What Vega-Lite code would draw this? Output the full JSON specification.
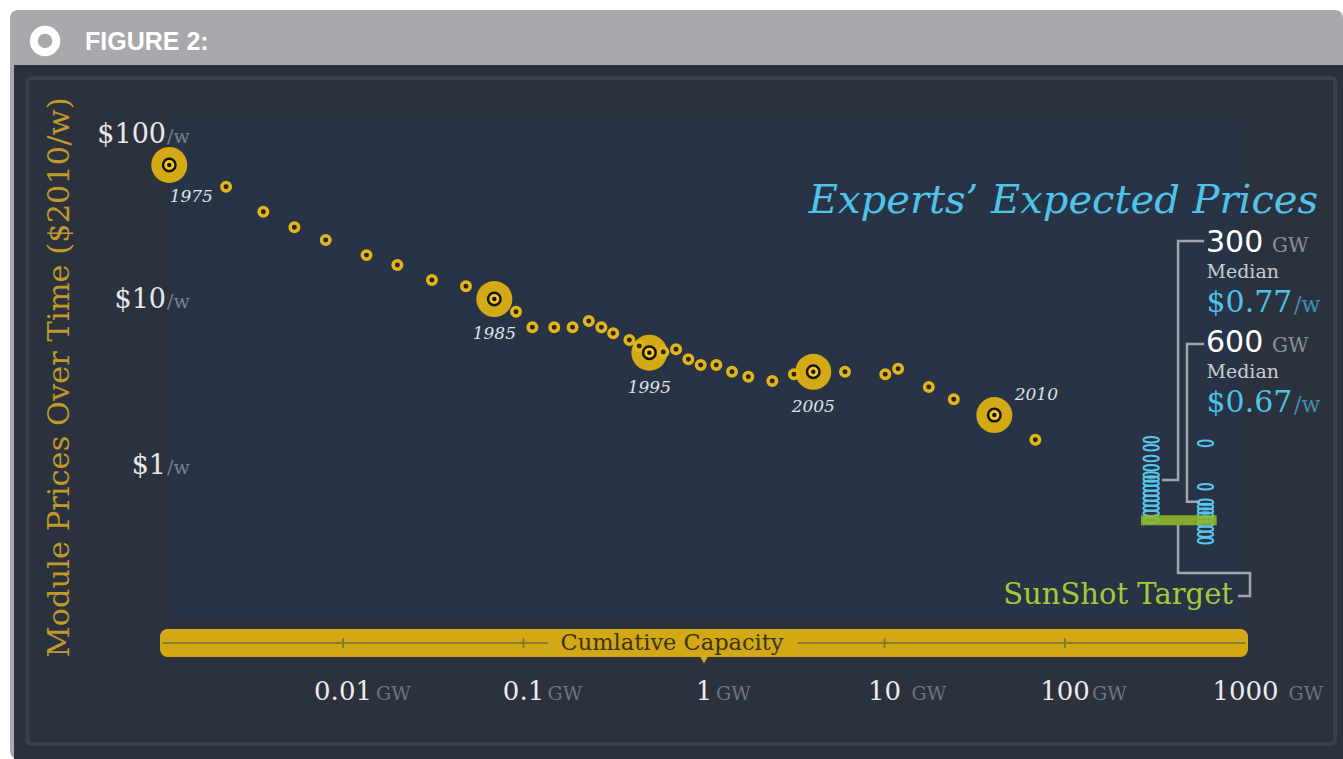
{
"$schema": "https://vega.github.io/schema/vega-lite/v6.json",
"width": 1343,
"height": 759,
"autosize": {"type": "fit", "contains": "padding"},
"padding": {"left": 10, "top": 10, "right": 0, "bottom": 0},
"background": "#ffffff",
"view": {"fill": "#a7a9ac", "stroke": null, "cornerRadius": 8},
"config": {"view": {"stroke": null}},
"datasets": {
"dots": [
{"capacity": 0.00109, "price": 65.9, "year": 1975},
{"capacity": 0.00225, "price": 48.7},
{"capacity": 0.00362, "price": 34.4},
{"capacity": 0.00538, "price": 27.7},
{"capacity": 0.00802, "price": 23.2},
{"capacity": 0.0135, "price": 18.8},
{"capacity": 0.02, "price": 16.4},
{"capacity": 0.0311, "price": 13.3},
{"capacity": 0.048, "price": 12.2},
{"capacity": 0.0689, "price": 10.2, "year": 1985},
{"capacity": 0.0909, "price": 8.56},
{"capacity": 0.112, "price": 6.89},
{"capacity": 0.148, "price": 6.89},
{"capacity": 0.187, "price": 6.89},
{"capacity": 0.23, "price": 7.52},
{"capacity": 0.27, "price": 6.89},
{"capacity": 0.314, "price": 6.34},
{"capacity": 0.386, "price": 5.77},
{"capacity": 0.438, "price": 5.31},
{"capacity": 0.498, "price": 4.84, "year": 1995},
{"capacity": 0.595, "price": 4.89},
{"capacity": 0.7, "price": 5.07},
{"capacity": 0.819, "price": 4.41},
{"capacity": 0.959, "price": 4.08},
{"capacity": 1.17, "price": 4.08},
{"capacity": 1.43, "price": 3.71},
{"capacity": 1.76, "price": 3.46},
{"capacity": 2.39, "price": 3.26},
{"capacity": 3.15, "price": 3.58},
{"capacity": 4.03, "price": 3.71, "year": 2005},
{"capacity": 6.04, "price": 3.71},
{"capacity": 10.1, "price": 3.58},
{"capacity": 11.9, "price": 3.87},
{"capacity": 17.6, "price": 3.0},
{"capacity": 24.2, "price": 2.53},
{"capacity": 40.6, "price": 2.03, "year": 2010},
{"capacity": 68.5, "price": 1.44}
],
"experts": [
{"capacity": 300, "price": 1.44}, {"capacity": 300, "price": 1.29}, {"capacity": 300, "price": 1.11},
{"capacity": 300, "price": 0.977}, {"capacity": 300, "price": 0.882}, {"capacity": 300, "price": 0.835},
{"capacity": 300, "price": 0.786}, {"capacity": 300, "price": 0.733}, {"capacity": 300, "price": 0.684},
{"capacity": 300, "price": 0.638}, {"capacity": 300, "price": 0.595}, {"capacity": 300, "price": 0.555},
{"capacity": 300, "price": 0.518}, {"capacity": 300, "price": 0.472},
{"capacity": 600, "price": 1.37}, {"capacity": 600, "price": 0.75}, {"capacity": 600, "price": 0.604},
{"capacity": 600, "price": 0.568}, {"capacity": 600, "price": 0.535}, {"capacity": 600, "price": 0.506},
{"capacity": 600, "price": 0.476}, {"capacity": 600, "price": 0.446}, {"capacity": 600, "price": 0.416},
{"capacity": 600, "price": 0.387}, {"capacity": 600, "price": 0.354}
],
"summary": [
{"capacity": 300, "median": 0.77},
{"capacity": 600, "median": 0.67}
],
"ylabels": [{"price": 100}, {"price": 10}, {"price": 1}],
"xlabels": [{"capacity": 0.01}, {"capacity": 0.1}, {"capacity": 1}, {"capacity": 10}, {"capacity": 100}, {"capacity": 1000}],
"connectors": [
{"path": "A", "step": 1, "capacity": 590, "price": 22.9},
{"path": "A", "step": 2, "capacity": 423, "price": 22.9},
{"path": "A", "step": 3, "capacity": 423, "price": 0.823},
{"path": "A", "step": 4, "capacity": 345, "price": 0.823},
{"path": "B", "step": 1, "capacity": 590, "price": 5.46},
{"path": "B", "step": 2, "capacity": 474, "price": 5.46},
{"path": "B", "step": 3, "capacity": 474, "price": 0.608},
{"path": "B", "step": 4, "capacity": 560, "price": 0.608},
{"path": "C", "step": 1, "capacity": 423, "price": 0.44},
{"path": "C", "step": 2, "capacity": 423, "price": 0.226},
{"path": "C", "step": 3, "capacity": 1059, "price": 0.226},
{"path": "C", "step": 4, "capacity": 1059, "price": 0.164},
{"path": "C", "step": 5, "capacity": 909, "price": 0.164}
]
},
"layer": [
{"data": {"values": [{}]}, "mark": {"type": "rect", "fill": "#2c323d"},
 "encoding": {"x": {"datum": 0.0001504, "type": "quantitative", "scale": {"type": "log", "domain": [0.0001429, 3468.7], "nice": false}, "axis": null}, "x2": {"datum": 3468.7},
  "y": {"datum": 264.9, "type": "quantitative", "scale": {"type": "log", "domain": [0.016967, 569.2], "nice": false}, "axis": null}, "y2": {"datum": 0.016967}}},
{"data": {"values": [{}]}, "mark": {"type": "rect", "fill": "#283446"},
 "encoding": {"x": {"datum": 0.0011, "type": "quantitative", "scale": {"type": "log", "domain": [0.0001429, 3468.7], "nice": false}, "axis": null}, "x2": {"datum": 968.6},
  "y": {"datum": 119.8, "type": "quantitative", "scale": {"type": "log", "domain": [0.016967, 569.2], "nice": false}, "axis": null}, "y2": {"datum": 0.1173}}},
{"data": {"values": [{}]}, "mark": {"type": "rect", "filled": false, "stroke": "#3b414c", "strokeWidth": 4, "cornerRadius": 4},
 "encoding": {"x": {"datum": 0.0001787, "type": "quantitative", "scale": {"type": "log", "domain": [0.0001429, 3468.7], "nice": false}, "axis": null}, "x2": {"datum": 3132},
  "y": {"datum": 221.0, "type": "quantitative", "scale": {"type": "log", "domain": [0.016967, 569.2], "nice": false}, "axis": null}, "y2": {"datum": 0.0209}}},
{"data": {"values": [{}]}, "mark": {"type": "point", "shape": "circle", "filled": false, "stroke": "#ffffff", "strokeWidth": 8, "size": 506, "opacity": 1},
 "encoding": {"x": {"datum": 0.0002234, "type": "quantitative", "scale": {"type": "log", "domain": [0.0001429, 3468.7], "nice": false}, "axis": null},
  "y": {"datum": 369.8, "type": "quantitative", "scale": {"type": "log", "domain": [0.016967, 569.2], "nice": false}, "axis": null}}},
{"data": {"values": [{}]}, "mark": {"type": "text", "text": "FIGURE 2:", "font": "Liberation Sans", "fontWeight": "bold", "fontSize": 25, "color": "#ffffff", "align": "left", "baseline": "alphabetic"},
 "encoding": {"x": {"datum": 0.0003721, "type": "quantitative", "scale": {"type": "log", "domain": [0.0001429, 3468.7], "nice": false}, "axis": null},
  "y": {"datum": 326.3, "type": "quantitative", "scale": {"type": "log", "domain": [0.016967, 569.2], "nice": false}, "axis": null}}},
{"data": {"values": [{}]}, "mark": {"type": "text", "text": "Module Prices Over Time ($2010/w)", "angle": 270, "font": "DejaVu Serif", "fontSize": 30.5, "color": "#bf9a2b", "align": "center", "baseline": "middle"},
 "encoding": {"x": {"datum": 0.0002705, "type": "quantitative", "scale": {"type": "log", "domain": [0.0001429, 3468.7], "nice": false}, "axis": null},
  "y": {"datum": 3.4245, "type": "quantitative", "scale": {"type": "log", "domain": [0.016967, 569.2], "nice": false}, "axis": null}}},
{"data": {"name": "ylabels"}, "mark": {"type": "text", "font": "DejaVu Serif", "fontSize": 27, "color": "#e8e8ea", "align": "right", "baseline": "alphabetic", "dx": 1, "dy": 8},
 "encoding": {"x": {"datum": 0.0010324, "type": "quantitative", "scale": {"type": "log", "domain": [0.0001429, 3468.7], "nice": false}, "axis": null},
  "y": {"field": "price", "type": "quantitative", "scale": {"type": "log", "domain": [0.016967, 569.2], "nice": false}, "axis": null},
  "text": {"field": "price", "type": "quantitative", "format": "$d"}}},
{"data": {"name": "ylabels"}, "mark": {"type": "text", "text": "/w", "font": "DejaVu Serif", "fontSize": 19, "color": "#7a808a", "align": "left", "baseline": "alphabetic", "dx": 2, "dy": 8},
 "encoding": {"x": {"datum": 0.0010324, "type": "quantitative", "scale": {"type": "log", "domain": [0.0001429, 3468.7], "nice": false}, "axis": null},
  "y": {"field": "price", "type": "quantitative", "scale": {"type": "log", "domain": [0.016967, 569.2], "nice": false}, "axis": null}}},
{"data": {"values": [{}]}, "mark": {"type": "rect", "fill": "#d2a815", "stroke": "#d2a815", "strokeWidth": 5, "cornerRadius": 5},
 "encoding": {"x": {"datum": 0.001, "type": "quantitative", "scale": {"type": "log", "domain": [0.0001429, 3468.7], "nice": false}, "axis": null}, "x2": {"datum": 1000},
  "y": {"datum": 0.1, "type": "quantitative", "scale": {"type": "log", "domain": [0.016967, 569.2], "nice": false}, "axis": null}, "y2": {"datum": 0.07263}}},
{"data": {"values": [{}]}, "mark": {"type": "rule", "color": "#8d7a2d", "strokeWidth": 2},
 "encoding": {"x": {"datum": 0.001, "type": "quantitative", "scale": {"type": "log", "domain": [0.0001429, 3468.7], "nice": false}, "axis": null}, "x2": {"datum": 0.1367},
  "y": {"datum": 0.0852, "type": "quantitative", "scale": {"type": "log", "domain": [0.016967, 569.2], "nice": false}, "axis": null}}},
{"data": {"values": [{}]}, "mark": {"type": "rule", "color": "#8d7a2d", "strokeWidth": 2},
 "encoding": {"x": {"datum": 3.304, "type": "quantitative", "scale": {"type": "log", "domain": [0.0001429, 3468.7], "nice": false}, "axis": null}, "x2": {"datum": 1000},
  "y": {"datum": 0.0852, "type": "quantitative", "scale": {"type": "log", "domain": [0.016967, 569.2], "nice": false}, "axis": null}}},
{"data": {"name": "xlabels"}, "transform": [{"filter": {"field": "capacity", "oneOf": [0.01, 0.1, 10, 100]}}],
 "mark": {"type": "tick", "orient": "vertical", "size": 10, "thickness": 2, "color": "#8d7a2d", "opacity": 1},
 "encoding": {"x": {"field": "capacity", "type": "quantitative", "scale": {"type": "log", "domain": [0.0001429, 3468.7], "nice": false}, "axis": null},
  "y": {"datum": 0.0852, "type": "quantitative", "scale": {"type": "log", "domain": [0.016967, 569.2], "nice": false}, "axis": null}}},
{"data": {"values": [{}]}, "mark": {"type": "text", "text": "Cumlative Capacity", "font": "DejaVu Serif", "fontSize": 22.5, "color": "#3d3318", "align": "center", "baseline": "middle"},
 "encoding": {"x": {"datum": 0.665, "type": "quantitative", "scale": {"type": "log", "domain": [0.0001429, 3468.7], "nice": false}, "axis": null},
  "y": {"datum": 0.0852, "type": "quantitative", "scale": {"type": "log", "domain": [0.016967, 569.2], "nice": false}, "axis": null}}},
{"data": {"values": [{}]}, "mark": {"type": "point", "shape": "triangle-down", "filled": true, "color": "#d2a815", "size": 110, "opacity": 1},
 "encoding": {"x": {"datum": 1, "type": "quantitative", "scale": {"type": "log", "domain": [0.0001429, 3468.7], "nice": false}, "axis": null},
  "y": {"datum": 0.06823, "type": "quantitative", "scale": {"type": "log", "domain": [0.016967, 569.2], "nice": false}, "axis": null}}},
{"data": {"name": "xlabels"}, "mark": {"type": "text", "font": "DejaVu Serif", "fontSize": 26, "color": "#ececec", "align": "center", "baseline": "alphabetic"},
 "encoding": {"x": {"field": "capacity", "type": "quantitative", "scale": {"type": "log", "domain": [0.0001429, 3468.7], "nice": false}, "axis": null},
  "y": {"datum": 0.03855, "type": "quantitative", "scale": {"type": "log", "domain": [0.016967, 569.2], "nice": false}, "axis": null},
  "text": {"field": "capacity", "type": "quantitative", "format": "~g"}}},
{"data": {"name": "xlabels"}, "transform": [{"filter": {"field": "capacity", "oneOf": [0.01]}}],
 "mark": {"type": "text", "text": "GW", "font": "DejaVu Serif", "fontSize": 19, "color": "#6e747e", "align": "left", "baseline": "alphabetic", "dx": 33},
 "encoding": {"x": {"field": "capacity", "type": "quantitative", "scale": {"type": "log", "domain": [0.0001429, 3468.7], "nice": false}, "axis": null},
  "y": {"datum": 0.03855, "type": "quantitative", "scale": {"type": "log", "domain": [0.016967, 569.2], "nice": false}, "axis": null}}},
{"data": {"name": "xlabels"}, "transform": [{"filter": {"field": "capacity", "oneOf": [0.1]}}],
 "mark": {"type": "text", "text": "GW", "font": "DejaVu Serif", "fontSize": 19, "color": "#6e747e", "align": "left", "baseline": "alphabetic", "dx": 24},
 "encoding": {"x": {"field": "capacity", "type": "quantitative", "scale": {"type": "log", "domain": [0.0001429, 3468.7], "nice": false}, "axis": null},
  "y": {"datum": 0.03855, "type": "quantitative", "scale": {"type": "log", "domain": [0.016967, 569.2], "nice": false}, "axis": null}}},
{"data": {"name": "xlabels"}, "transform": [{"filter": {"field": "capacity", "oneOf": [1]}}],
 "mark": {"type": "text", "text": "GW", "font": "DejaVu Serif", "fontSize": 19, "color": "#6e747e", "align": "left", "baseline": "alphabetic", "dx": 12},
 "encoding": {"x": {"field": "capacity", "type": "quantitative", "scale": {"type": "log", "domain": [0.0001429, 3468.7], "nice": false}, "axis": null},
  "y": {"datum": 0.03855, "type": "quantitative", "scale": {"type": "log", "domain": [0.016967, 569.2], "nice": false}, "axis": null}}},
{"data": {"name": "xlabels"}, "transform": [{"filter": {"field": "capacity", "oneOf": [10, 100]}}],
 "mark": {"type": "text", "text": "GW", "font": "DejaVu Serif", "fontSize": 19, "color": "#6e747e", "align": "left", "baseline": "alphabetic", "dx": 27},
 "encoding": {"x": {"field": "capacity", "type": "quantitative", "scale": {"type": "log", "domain": [0.0001429, 3468.7], "nice": false}, "axis": null},
  "y": {"datum": 0.03855, "type": "quantitative", "scale": {"type": "log", "domain": [0.016967, 569.2], "nice": false}, "axis": null}}},
{"data": {"name": "xlabels"}, "transform": [{"filter": {"field": "capacity", "oneOf": [1000]}}],
 "mark": {"type": "text", "text": "GW", "font": "DejaVu Serif", "fontSize": 19, "color": "#6e747e", "align": "left", "baseline": "alphabetic", "dx": 43},
 "encoding": {"x": {"field": "capacity", "type": "quantitative", "scale": {"type": "log", "domain": [0.0001429, 3468.7], "nice": false}, "axis": null},
  "y": {"datum": 0.03855, "type": "quantitative", "scale": {"type": "log", "domain": [0.016967, 569.2], "nice": false}, "axis": null}}},
{"data": {"name": "connectors"}, "mark": {"type": "line", "color": "#a3a7ad", "strokeWidth": 2.5, "strokeJoin": "miter"},
 "encoding": {"x": {"field": "capacity", "type": "quantitative", "scale": {"type": "log", "domain": [0.0001429, 3468.7], "nice": false}, "axis": null},
  "y": {"field": "price", "type": "quantitative", "scale": {"type": "log", "domain": [0.016967, 569.2], "nice": false}, "axis": null},
  "detail": {"field": "path"}, "order": {"field": "step"}}},
{"data": {"name": "experts"}, "mark": {"type": "point", "shape": "M -1 0 A 1 0.36 0 1 1 1 0 A 1 0.36 0 1 1 -1 0 Z", "filled": false, "stroke": "#58c6ee", "strokeWidth": 2, "size": 240, "opacity": 1},
 "encoding": {"x": {"field": "capacity", "type": "quantitative", "scale": {"type": "log", "domain": [0.0001429, 3468.7], "nice": false}, "axis": null},
  "y": {"field": "price", "type": "quantitative", "scale": {"type": "log", "domain": [0.016967, 569.2], "nice": false}, "axis": null}}},
{"data": {"values": [{}]}, "mark": {"type": "rule", "color": "#8fba2c", "strokeWidth": 10, "opacity": 0.88},
 "encoding": {"x": {"datum": 263.7, "type": "quantitative", "scale": {"type": "log", "domain": [0.0001429, 3468.7], "nice": false}, "axis": null}, "x2": {"datum": 692.4},
  "y": {"datum": 0.47, "type": "quantitative", "scale": {"type": "log", "domain": [0.016967, 569.2], "nice": false}, "axis": null}}},
{"data": {"values": [{}]}, "mark": {"type": "text", "text": "SunShot Target", "font": "DejaVu Serif", "fontSize": 29, "color": "#a6c83a", "align": "right", "baseline": "middle"},
 "encoding": {"x": {"datum": 852.5, "type": "quantitative", "scale": {"type": "log", "domain": [0.0001429, 3468.7], "nice": false}, "axis": null},
  "y": {"datum": 0.16614, "type": "quantitative", "scale": {"type": "log", "domain": [0.016967, 569.2], "nice": false}, "axis": null}}},
{"data": {"values": [{}]}, "mark": {"type": "text", "text": "Experts’ Expected Prices", "font": "DejaVu Serif", "fontStyle": "italic", "fontSize": 40, "color": "#4fc3ea", "align": "right", "baseline": "middle"},
 "encoding": {"x": {"datum": 2521, "type": "quantitative", "scale": {"type": "log", "domain": [0.0001429, 3468.7], "nice": false}, "axis": null},
  "y": {"datum": 39.93, "type": "quantitative", "scale": {"type": "log", "domain": [0.016967, 569.2], "nice": false}, "axis": null}}},
{"data": {"name": "summary"}, "transform": [{"filter": {"field": "capacity", "equal": 300}}],
 "mark": {"type": "text", "font": "DejaVu Sans", "fontSize": 30, "color": "#ffffff", "align": "left", "baseline": "alphabetic"},
 "encoding": {"x": {"datum": 604, "type": "quantitative", "scale": {"type": "log", "domain": [0.0001429, 3468.7], "nice": false}, "axis": null},
  "y": {"datum": 19.64, "type": "quantitative", "scale": {"type": "log", "domain": [0.016967, 569.2], "nice": false}, "axis": null},
  "text": {"field": "capacity", "type": "nominal"}}},
{"data": {"name": "summary"}, "transform": [{"filter": {"field": "capacity", "equal": 300}}],
 "mark": {"type": "text", "text": "GW", "font": "DejaVu Serif", "fontSize": 20, "color": "#8c9096", "align": "left", "baseline": "alphabetic"},
 "encoding": {"x": {"datum": 1402, "type": "quantitative", "scale": {"type": "log", "domain": [0.0001429, 3468.7], "nice": false}, "axis": null},
  "y": {"datum": 19.64, "type": "quantitative", "scale": {"type": "log", "domain": [0.016967, 569.2], "nice": false}, "axis": null}}},
{"data": {"name": "summary"}, "transform": [{"filter": {"field": "capacity", "equal": 300}}],
 "mark": {"type": "text", "text": "Median", "font": "DejaVu Serif", "fontSize": 19, "color": "#c9cbcf", "align": "left", "baseline": "alphabetic"},
 "encoding": {"x": {"datum": 608, "type": "quantitative", "scale": {"type": "log", "domain": [0.0001429, 3468.7], "nice": false}, "axis": null},
  "y": {"datum": 13.68, "type": "quantitative", "scale": {"type": "log", "domain": [0.016967, 569.2], "nice": false}, "axis": null}}},
{"data": {"name": "summary"}, "transform": [{"filter": {"field": "capacity", "equal": 300}}],
 "mark": {"type": "text", "font": "DejaVu Serif", "fontSize": 30, "color": "#4ec3ea", "align": "left", "baseline": "alphabetic"},
 "encoding": {"x": {"datum": 608, "type": "quantitative", "scale": {"type": "log", "domain": [0.0001429, 3468.7], "nice": false}, "axis": null},
  "y": {"datum": 8.522, "type": "quantitative", "scale": {"type": "log", "domain": [0.016967, 569.2], "nice": false}, "axis": null},
  "text": {"field": "median", "type": "quantitative", "format": "$.2f"}}},
{"data": {"name": "summary"}, "transform": [{"filter": {"field": "capacity", "equal": 300}}],
 "mark": {"type": "text", "text": "/w", "font": "DejaVu Serif", "fontSize": 22, "color": "#3f8fae", "align": "left", "baseline": "alphabetic"},
 "encoding": {"x": {"datum": 1857, "type": "quantitative", "scale": {"type": "log", "domain": [0.0001429, 3468.7], "nice": false}, "axis": null},
  "y": {"datum": 8.522, "type": "quantitative", "scale": {"type": "log", "domain": [0.016967, 569.2], "nice": false}, "axis": null}}},
{"data": {"name": "summary"}, "transform": [{"filter": {"field": "capacity", "equal": 600}}],
 "mark": {"type": "text", "font": "DejaVu Sans", "fontSize": 30, "color": "#ffffff", "align": "left", "baseline": "alphabetic"},
 "encoding": {"x": {"datum": 604, "type": "quantitative", "scale": {"type": "log", "domain": [0.0001429, 3468.7], "nice": false}, "axis": null},
  "y": {"datum": 4.885, "type": "quantitative", "scale": {"type": "log", "domain": [0.016967, 569.2], "nice": false}, "axis": null},
  "text": {"field": "capacity", "type": "nominal"}}},
{"data": {"name": "summary"}, "transform": [{"filter": {"field": "capacity", "equal": 600}}],
 "mark": {"type": "text", "text": "GW", "font": "DejaVu Serif", "fontSize": 20, "color": "#8c9096", "align": "left", "baseline": "alphabetic"},
 "encoding": {"x": {"datum": 1402, "type": "quantitative", "scale": {"type": "log", "domain": [0.0001429, 3468.7], "nice": false}, "axis": null},
  "y": {"datum": 4.885, "type": "quantitative", "scale": {"type": "log", "domain": [0.016967, 569.2], "nice": false}, "axis": null}}},
{"data": {"name": "summary"}, "transform": [{"filter": {"field": "capacity", "equal": 600}}],
 "mark": {"type": "text", "text": "Median", "font": "DejaVu Serif", "fontSize": 19, "color": "#c9cbcf", "align": "left", "baseline": "alphabetic"},
 "encoding": {"x": {"datum": 608, "type": "quantitative", "scale": {"type": "log", "domain": [0.0001429, 3468.7], "nice": false}, "axis": null},
  "y": {"datum": 3.401, "type": "quantitative", "scale": {"type": "log", "domain": [0.016967, 569.2], "nice": false}, "axis": null}}},
{"data": {"name": "summary"}, "transform": [{"filter": {"field": "capacity", "equal": 600}}],
 "mark": {"type": "text", "font": "DejaVu Serif", "fontSize": 30, "color": "#4ec3ea", "align": "left", "baseline": "alphabetic"},
 "encoding": {"x": {"datum": 608, "type": "quantitative", "scale": {"type": "log", "domain": [0.0001429, 3468.7], "nice": false}, "axis": null},
  "y": {"datum": 2.12, "type": "quantitative", "scale": {"type": "log", "domain": [0.016967, 569.2], "nice": false}, "axis": null},
  "text": {"field": "median", "type": "quantitative", "format": "$.2f"}}},
{"data": {"name": "summary"}, "transform": [{"filter": {"field": "capacity", "equal": 600}}],
 "mark": {"type": "text", "text": "/w", "font": "DejaVu Serif", "fontSize": 22, "color": "#3f8fae", "align": "left", "baseline": "alphabetic"},
 "encoding": {"x": {"datum": 1857, "type": "quantitative", "scale": {"type": "log", "domain": [0.0001429, 3468.7], "nice": false}, "axis": null},
  "y": {"datum": 2.12, "type": "quantitative", "scale": {"type": "log", "domain": [0.016967, 569.2], "nice": false}, "axis": null}}},
{"data": {"name": "dots"}, "transform": [{"filter": {"field": "year", "valid": true}}],
 "mark": {"type": "point", "shape": "circle", "filled": true, "color": "#d3a916", "size": 1296, "opacity": 1},
 "encoding": {"x": {"field": "capacity", "type": "quantitative", "scale": {"type": "log", "domain": [0.0001429, 3468.7], "nice": false}, "axis": null},
  "y": {"field": "price", "type": "quantitative", "scale": {"type": "log", "domain": [0.016967, 569.2], "nice": false}, "axis": null}}},
{"data": {"name": "dots"}, "transform": [{"filter": {"not": {"field": "year", "valid": true}}}],
 "mark": {"type": "point", "shape": "circle", "filled": true, "fill": "#2b2613", "stroke": "#e1b61c", "strokeWidth": 3.5, "size": 72, "opacity": 1},
 "encoding": {"x": {"field": "capacity", "type": "quantitative", "scale": {"type": "log", "domain": [0.0001429, 3468.7], "nice": false}, "axis": null},
  "y": {"field": "price", "type": "quantitative", "scale": {"type": "log", "domain": [0.016967, 569.2], "nice": false}, "axis": null}}},
{"data": {"name": "dots"}, "transform": [{"filter": {"field": "year", "valid": true}}],
 "mark": {"type": "point", "shape": "circle", "filled": true, "fill": "#f4ca1f", "stroke": "#15130c", "strokeWidth": 2.5, "size": 156, "opacity": 1},
 "encoding": {"x": {"field": "capacity", "type": "quantitative", "scale": {"type": "log", "domain": [0.0001429, 3468.7], "nice": false}, "axis": null},
  "y": {"field": "price", "type": "quantitative", "scale": {"type": "log", "domain": [0.016967, 569.2], "nice": false}, "axis": null}}},
{"data": {"name": "dots"}, "transform": [{"filter": {"field": "year", "valid": true}}],
 "mark": {"type": "point", "shape": "circle", "filled": true, "color": "#15130c", "size": 20, "opacity": 1},
 "encoding": {"x": {"field": "capacity", "type": "quantitative", "scale": {"type": "log", "domain": [0.0001429, 3468.7], "nice": false}, "axis": null},
  "y": {"field": "price", "type": "quantitative", "scale": {"type": "log", "domain": [0.016967, 569.2], "nice": false}, "axis": null}}},
{"data": {"name": "dots"}, "transform": [{"filter": {"field": "year", "oneOf": [1985, 1995, 2005]}}],
 "mark": {"type": "text", "font": "DejaVu Serif", "fontStyle": "italic", "fontSize": 17, "color": "#dfe3e8", "align": "center", "baseline": "middle", "dy": 35},
 "encoding": {"x": {"field": "capacity", "type": "quantitative", "scale": {"type": "log", "domain": [0.0001429, 3468.7], "nice": false}, "axis": null},
  "y": {"field": "price", "type": "quantitative", "scale": {"type": "log", "domain": [0.016967, 569.2], "nice": false}, "axis": null},
  "text": {"field": "year", "type": "nominal"}}},
{"data": {"name": "dots"}, "transform": [{"filter": {"field": "year", "equal": 1975}}],
 "mark": {"type": "text", "font": "DejaVu Serif", "fontStyle": "italic", "fontSize": 17, "color": "#dfe3e8", "align": "center", "baseline": "middle", "dx": 22, "dy": 32},
 "encoding": {"x": {"field": "capacity", "type": "quantitative", "scale": {"type": "log", "domain": [0.0001429, 3468.7], "nice": false}, "axis": null},
  "y": {"field": "price", "type": "quantitative", "scale": {"type": "log", "domain": [0.016967, 569.2], "nice": false}, "axis": null},
  "text": {"field": "year", "type": "nominal"}}},
{"data": {"name": "dots"}, "transform": [{"filter": {"field": "year", "equal": 2010}}],
 "mark": {"type": "text", "font": "DejaVu Serif", "fontStyle": "italic", "fontSize": 17, "color": "#dfe3e8", "align": "center", "baseline": "middle", "dx": 42, "dy": -20},
 "encoding": {"x": {"field": "capacity", "type": "quantitative", "scale": {"type": "log", "domain": [0.0001429, 3468.7], "nice": false}, "axis": null},
  "y": {"field": "price", "type": "quantitative", "scale": {"type": "log", "domain": [0.016967, 569.2], "nice": false}, "axis": null},
  "text": {"field": "year", "type": "nominal"}}}
]
}
